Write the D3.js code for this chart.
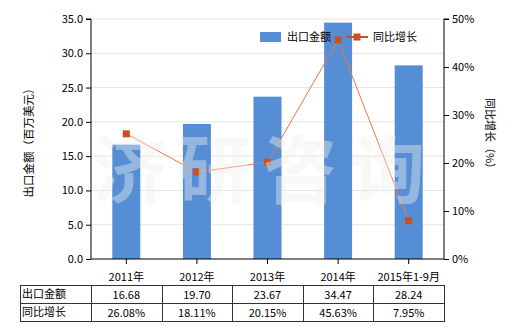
<!DOCTYPE html>
<html><head><meta charset="utf-8">
<script src="https://cdn.jsdelivr.net/npm/d3@7/dist/d3.min.js"></script>
<style>body{margin:0;background:#fff}svg{display:block;font-family:"Noto Sans CJK SC","DejaVu Sans",sans-serif}</style>
</head><body><svg id="c" width="520" height="330"></svg>
<script>
const categories = ["2011年","2012年","2013年","2014年","2015年1-9月"];
const exportValues = [16.68,19.70,23.67,34.47,28.24];
const growthValues = [26.08,18.11,20.15,45.63,7.95];
const exportLabels = ["16.68","19.70","23.67","34.47","28.24"];
const growthLabels = ["26.08%","18.11%","20.15%","45.63%","7.95%"];
const leftTicks = [0,5,10,15,20,25,30,35];
const rightTicks = [0,10,20,30,40,50];

const svg = d3.select("#c");
const L=91,R=444,T=19,B=259;
const x = d3.scaleBand().domain(categories).range([L,R]);
const yL = d3.scaleLinear().domain([0,35]).range([B,T]);
const yR = d3.scaleLinear().domain([0,50]).range([B,T]);
const fs = "11px";

// grid
svg.append("g").selectAll("line").data(leftTicks.slice(1)).join("line")
  .attr("x1",L).attr("x2",R).attr("y1",d=>yL(d)).attr("y2",d=>yL(d))
  .attr("stroke","#e6e6d6").attr("stroke-width",1);

// bars
svg.append("g").selectAll("rect").data(exportValues).join("rect")
  .attr("x",(d,i)=>x(categories[i])+x.bandwidth()/2-14).attr("width",28)
  .attr("y",d=>yL(d)).attr("height",d=>B-yL(d)).attr("fill","#558ed5");

// line
const cx = i=>x(categories[i])+x.bandwidth()/2;
svg.append("path").datum(growthValues)
  .attr("d",d3.line().x((d,i)=>cx(i)).y(d=>yR(d)))
  .attr("fill","none").attr("stroke","#e8784a").attr("stroke-width",1);
svg.append("g").selectAll("rect").data(growthValues).join("rect")
  .attr("x",(d,i)=>cx(i)-3.5).attr("y",d=>yR(d)-3.5).attr("width",7).attr("height",7)
  .attr("fill","#c8501e");

// watermark
svg.append("g").selectAll("text").data(["济","研","咨","询"]).join("text")
  .attr("x",(d,i)=>[130,214,300,388][i]).attr("y",197).attr("text-anchor","middle")
  .attr("font-size","74px").attr("font-weight","bold").attr("fill","#efefef").attr("opacity",0.42).text(d=>d);

// axes
const axL = svg.append("g").attr("transform",`translate(${L},0)`)
  .call(d3.axisLeft(yL).tickValues(leftTicks).tickFormat(d3.format(".1f")).tickSize(5));
const axR = svg.append("g").attr("transform",`translate(${R},0)`)
  .call(d3.axisRight(yR).tickValues(rightTicks).tickFormat(d=>d+"%").tickSize(5));
const axB = svg.append("g").attr("transform",`translate(0,${B})`)
  .call(d3.axisBottom(x).tickSize(5).tickSizeOuter(0));
[axL,axR,axB].forEach(a=>{
  a.selectAll("text").attr("font-size",fs).attr("fill","#000").attr("font-family","'Noto Sans CJK SC',sans-serif");
  a.selectAll("line,path").attr("stroke","#000");
});
axL.select(".domain").attr("d",`M-5,${T}H0V${B}`);
axR.select(".domain").attr("d",`M5,${T}H0V${B}`);
axB.selectAll("text").attr("dy","1.3em");
axB.select(".domain").attr("d",`M${L},0H${R}`);

// axis titles
svg.append("text").attr("transform","translate(33,140) rotate(-90)").attr("text-anchor","middle")
  .attr("font-size","11.5px").text("出口金额（百万美元）");
svg.append("text").attr("transform","translate(486,136) rotate(90)").attr("text-anchor","middle")
  .attr("font-size",fs).text("同比增长（%）");

// legend
svg.append("rect").attr("x",260).attr("y",32).attr("width",21).attr("height",10).attr("fill","#558ed5");
svg.append("text").attr("x",287).attr("y",41).attr("font-size",fs).text("出口金额");
svg.append("line").attr("x1",346).attr("x2",368).attr("y1",37).attr("y2",37).attr("stroke","#c8501e").attr("stroke-width",2);
svg.append("rect").attr("x",353.5).attr("y",33.5).attr("width",7).attr("height",7).attr("fill","#c8501e");
svg.append("text").attr("x",373).attr("y",41).attr("font-size",fs).text("同比增长");

// table
const tT=285,tM=303,tB=321,tL=20;
const tg = svg.append("g").attr("stroke","#333").attr("stroke-width",1);
[tT,tM,tB].forEach(y=>tg.append("line").attr("x1",tL).attr("x2",R).attr("y1",y+0.5).attr("y2",y+0.5));
const vx=[tL,L].concat(categories.map(c=>x(c)+x.bandwidth()));
vx.forEach(v=>tg.append("line").attr("x1",Math.round(v)+0.5).attr("x2",Math.round(v)+0.5).attr("y1",tT).attr("y2",tB+1));
const rows=[["出口金额",exportLabels],["同比增长",growthLabels]];
rows.forEach((r,ri)=>{
  const yy=[tT,tM][ri]+13;
  svg.append("text").attr("x",tL+2).attr("y",yy).attr("font-size",fs).text(r[0]);
  svg.append("g").selectAll("text").data(r[1]).join("text")
    .attr("x",(d,i)=>cx(i)).attr("y",yy+1).attr("text-anchor","middle").attr("font-size",fs).text(d=>d);
});
</script></body></html>
